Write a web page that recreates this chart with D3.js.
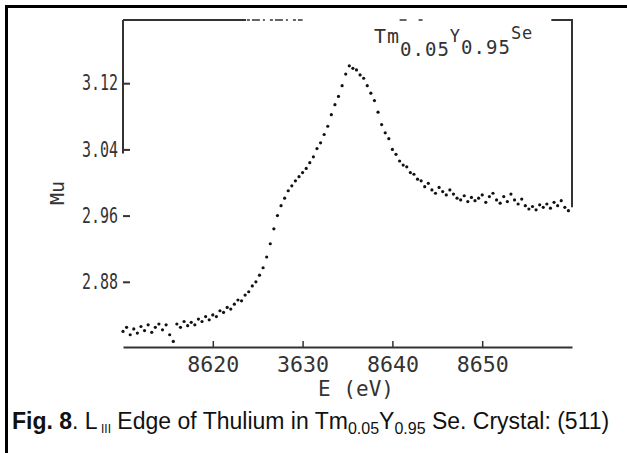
<!DOCTYPE html>
<html>
<head>
<meta charset="utf-8">
<script src="https://cdn.jsdelivr.net/npm/d3@7"></script>
<style>
  body { margin: 0; background: #fff; }
  svg { display: block; }
</style>
</head>
<body>
<div id="chart"></div>
<script>
// values
var energy = [
  8610.0, 8610.4, 8610.8, 8611.2, 8611.6, 8612.0, 8612.4, 8612.8, 8613.2, 8613.6,
  8614.0, 8614.4, 8614.8, 8615.2, 8615.6, 8616.0, 8616.4, 8616.8, 8617.2, 8617.6,
  8618.0, 8618.4, 8618.8, 8619.2, 8619.6, 8620.0, 8620.4, 8620.8, 8621.2, 8621.6,
  8622.0, 8622.4, 8622.8, 8623.2, 8623.6, 8624.0, 8624.4, 8624.8, 8625.2, 8625.6,
  8626.0, 8626.4, 8626.8, 8627.2, 8627.6, 8628.0, 8628.4, 8628.8, 8629.2, 8629.6,
  8630.0, 8630.4, 8630.8, 8631.2, 8631.6, 8632.0, 8632.4, 8632.8, 8633.2, 8633.6,
  8634.0, 8634.4, 8634.8, 8635.2, 8635.6, 8636.0, 8636.4, 8636.8, 8637.2, 8637.6,
  8638.0, 8638.4, 8638.8, 8639.2, 8639.6, 8640.0, 8640.4, 8640.8, 8641.2, 8641.6,
  8642.0, 8642.4, 8642.8, 8643.2, 8643.6, 8644.0, 8644.4, 8644.8, 8645.2, 8645.6,
  8646.0, 8646.4, 8646.8, 8647.2, 8647.6, 8648.0, 8648.4, 8648.8, 8649.2, 8649.6,
  8650.0, 8650.4, 8650.8, 8651.2, 8651.6, 8652.0, 8652.4, 8652.8, 8653.2, 8653.6,
  8654.0, 8654.4, 8654.8, 8655.2, 8655.6, 8656.0, 8656.4, 8656.8, 8657.2, 8657.6,
  8658.0, 8658.4, 8658.8, 8659.2, 8659.6
];
var mu = [
  2.820, 2.825, 2.816, 2.823, 2.818, 2.826, 2.821, 2.828, 2.819, 2.825,
  2.829, 2.822, 2.828, 2.816, 2.808, 2.829, 2.825, 2.832, 2.827, 2.831,
  2.828, 2.835, 2.832, 2.838, 2.834, 2.840, 2.838, 2.845, 2.843, 2.849,
  2.847, 2.853, 2.858, 2.857, 2.864, 2.868, 2.875, 2.880, 2.888, 2.897,
  2.910, 2.926, 2.944, 2.960, 2.972, 2.981, 2.990, 2.996, 3.002, 3.007,
  3.012, 3.017, 3.024, 3.031, 3.041, 3.048, 3.058, 3.068, 3.082, 3.094,
  3.104, 3.117, 3.131, 3.141, 3.138, 3.136, 3.130, 3.126, 3.117, 3.108,
  3.099, 3.085, 3.070, 3.060, 3.053, 3.040, 3.034, 3.026, 3.021, 3.019,
  3.012, 3.010, 3.004, 3.002, 2.995, 2.999, 2.991, 2.987, 2.994, 2.989,
  2.985, 2.991, 2.986, 2.981, 2.979, 2.984, 2.977, 2.982, 2.978, 2.981,
  2.985, 2.976, 2.983, 2.987, 2.979, 2.975, 2.983, 2.977, 2.986, 2.979,
  2.974, 2.980, 2.972, 2.968, 2.971, 2.967, 2.973, 2.970, 2.974, 2.969,
  2.976, 2.972, 2.978, 2.970, 2.966
];
var xTicks = [8620, 8630, 8640, 8650];
var xTickLabels = ['8620', '3630', '8640', '8650'];
var yTicks = [2.88, 2.96, 3.04, 3.12];
var yTickLabels = ['2.88', '2.96', '3.04', '3.12'];

var W = 627, H = 453;
var svg = d3.select('#chart').append('svg')
  .attr('width', W)
  .attr('height', H);

var x = d3.scaleLinear().domain([8610, 8660]).range([123, 572]);
var y = d3.scaleLinear().domain([2.80, 3.20]).range([348, 17]);

// frame of the figure (only top and left survive in the scan)
svg.append('path')
  .attr('d', 'M6.5,' + H + ' V6.5 H' + W)
  .style('fill', 'none')
  .style('stroke', '#000')
  .style('stroke-width', 3);

var ink = '#333';

// top border of the plot, partly broken
var topY = 20;
svg.append('line')
  .attr('x1', x(8610)).attr('x2', x(8623.7))
  .attr('y1', topY).attr('y2', topY)
  .style('stroke', ink).style('stroke-width', 2);
svg.append('line')
  .attr('x1', x(8623.8)).attr('x2', x(8630.0))
  .attr('y1', topY).attr('y2', topY)
  .style('stroke', ink).style('stroke-width', 1.5)
  .style('stroke-dasharray', '3,2,8,3,2,5');
svg.append('line')
  .attr('x1', x(8640.8)).attr('x2', x(8643.4))
  .attr('y1', topY).attr('y2', topY)
  .style('stroke', ink).style('stroke-width', 1.5)
  .style('stroke-dasharray', '7,12,4');
// top right corner and right side
svg.append('path')
  .attr('d', 'M' + x(8657.7) + ',' + topY + ' H' + x(8660) + ' V' + y(2.97))
  .style('fill', 'none')
  .style('stroke', ink).style('stroke-width', 2);

// left axis: line only down to 3.04, then ticks alone
svg.append('line')
  .attr('x1', x(8610)).attr('x2', x(8610))
  .attr('y1', topY).attr('y2', y(3.035))
  .style('stroke', ink).style('stroke-width', 2);

var yAxis = d3.axisLeft(y)
  .tickValues(yTicks)
  .tickFormat((d, i) => yTickLabels[i])
  .tickSize(-7)
  .tickPadding(12);
var gy = svg.append('g')
  .attr('transform', 'translate(' + x(8610) + ',0)')
  .call(yAxis);
gy.select('.domain').remove();
gy.selectAll('.tick line').style('stroke', ink).style('stroke-width', 2)
  .attr('x1', 0);
gy.selectAll('.tick text')
  .attr('x', -5)
  .style('font-family', 'DejaVu Sans Mono')
  .style('font-size', '21px')
  .style('fill', ink)
  .attr('textLength', 36)
  .attr('lengthAdjust', 'spacingAndGlyphs');

// bottom axis
var xAxis = d3.axisBottom(x)
  .tickValues(xTicks)
  .tickFormat((d, i) => xTickLabels[i])
  .tickSizeInner(-6)
  .tickSizeOuter(0)
  .tickPadding(9);
var gx = svg.append('g')
  .attr('transform', 'translate(0,' + 347 + ')')
  .call(xAxis);
gx.select('.domain').style('stroke', ink).style('stroke-width', 2);
gx.selectAll('.tick line').style('stroke', ink).style('stroke-width', 1.5);
gx.selectAll('.tick text')
  .style('font-family', 'DejaVu Sans Mono')
  .style('font-size', '22px')
  .style('fill', ink)
  .attr('textLength', 52)
  .attr('lengthAdjust', 'spacingAndGlyphs');

// axis titles
svg.append('text')
  .attr('transform', 'translate(64,193) rotate(-90)')
  .attr('text-anchor', 'middle')
  .style('font-family', 'DejaVu Sans Mono')
  .style('font-size', '20px')
  .style('fill', ink)
  .text('Mu');

svg.append('text')
  .attr('x', 356).attr('y', 396)
  .attr('text-anchor', 'middle')
  .style('font-family', 'DejaVu Sans Mono')
  .style('font-size', '21px')
  .style('fill', ink)
  .text('E (eV)');

// sample label in the plot
var lab = svg.append('text')
  .attr('x', 374).attr('y', 43)
  .style('font-family', 'DejaVu Sans Mono')
  .style('font-size', '20px')
  .style('letter-spacing', '1px')
  .style('fill', ink);
lab.append('tspan').text('Tm');
lab.append('tspan').attr('dy', 13).style('font-size', '19px').text('0.05');
lab.append('tspan').attr('dy', -14).style('font-size', '17px').text('Y');
lab.append('tspan').attr('dy', 12).style('font-size', '19px').text('0.95');
lab.append('tspan').attr('dy', -15).style('font-size', '17px').text('Se');

// data points
var pts = energy.map((e, i) => ({ e: e, m: mu[i] }));
svg.selectAll('circle.pt').data(pts).join('circle')
  .attr('class', 'pt')
  .attr('cx', d => x(d.e))
  .attr('cy', d => y(d.m))
  .attr('r', 1.6)
  .style('fill', '#111');

// caption
var cap = svg.append('text')
  .attr('x', 12).attr('y', 429)
  .style('font-family', 'Liberation Sans, Arial, sans-serif')
  .style('font-size', '23px')
  .style('fill', '#111');
cap.append('tspan').style('font-weight', 'bold').text('Fig. 8');
cap.append('tspan').text('. L');
cap.append('tspan').attr('dy', 4).style('font-size', '12px').text(' III');
cap.append('tspan').attr('dy', -4).text(' Edge of Thulium in Tm');
cap.append('tspan').attr('dy', 5).style('font-size', '16px').text('0.05');
cap.append('tspan').attr('dy', -5).text('Y');
cap.append('tspan').attr('dy', 5).style('font-size', '16px').text('0.95');
cap.append('tspan').attr('dy', -5).text(' Se. Crystal: (511)');
</script>
</body>
</html>
